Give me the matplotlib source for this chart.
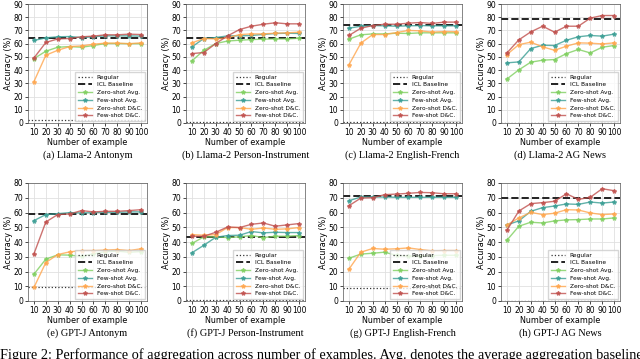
import numpy as np
from matplotlib import pyplot as plt

x = [10, 20, 30, 40, 50, 60, 70, 80, 90, 100]

titles = ["(a) Llama-2 Antonym", "(b) Llama-2 Person-Instrument",
          "(c) Llama-2 English-French", "(d) Llama-2 AG News",
          "(e) GPT-J Antonym", "(f) GPT-J Person-Instrument",
          "(g) GPT-J English-French", "(h) GPT-J AG News"]

regular = [2.5, 0.6, 0.6, 0.0, 9.2, 0.6, 8.6, 0.0]
icl_baseline = [64.1, 64.4, 73.8, 78.5, 58.8, 43.5, 70.9, 70.0]

zero_avg = [
    [48.7, 54.3, 57.3, 57.8, 57.3, 58.6, 60.1, 60.1, 60.0, 60.0],
    [47.0, 55.0, 60.1, 62.0, 62.6, 63.1, 63.4, 63.6, 63.6, 64.1],
    [63.4, 66.7, 67.4, 67.4, 67.9, 67.7, 68.2, 68.2, 68.2, 68.2],
    [33.3, 40.2, 46.0, 47.5, 48.0, 52.5, 55.6, 53.0, 57.3, 58.6],
    [18.2, 28.4, 31.3, 31.1, 30.2, 32.0, 33.5, 33.8, 33.0, 33.5],
    [39.0, 43.5, 43.5, 43.0, 43.5, 44.4, 43.0, 43.9, 43.9, 44.4],
    [29.0, 31.8, 32.4, 33.1, 30.9, 30.4, 30.5, 30.8, 31.0, 31.0],
    [41.2, 50.7, 53.4, 52.9, 54.3, 55.0, 55.2, 55.6, 55.6, 56.3],
]
few_avg = [
    [62.4, 64.4, 65.2, 65.4, 64.6, 65.2, 65.9, 65.9, 65.9, 65.7],
    [57.6, 63.9, 64.6, 65.9, 65.9, 66.2, 67.0, 67.7, 67.9, 67.7],
    [71.7, 73.2, 73.7, 73.5, 73.2, 73.5, 73.7, 73.5, 73.5, 73.5],
    [45.5, 46.2, 56.3, 58.8, 58.6, 62.6, 65.2, 66.2, 65.7, 67.2],
    [54.5, 58.6, 59.2, 59.9, 59.7, 59.9, 60.1, 60.1, 60.4, 60.4],
    [32.7, 37.8, 43.2, 44.4, 44.6, 47.1, 46.2, 46.6, 46.4, 46.4],
    [68.0, 70.5, 70.5, 70.5, 70.3, 70.3, 70.3, 70.3, 70.3, 70.3],
    [51.6, 54.3, 60.8, 63.3, 64.4, 65.8, 65.5, 67.1, 66.4, 67.1],
]
zero_dc = [
    [31.3, 51.3, 55.0, 57.8, 58.3, 59.6, 60.4, 60.4, 60.0, 60.6],
    [60.6, 63.9, 63.6, 64.4, 66.9, 67.4, 67.4, 67.9, 68.2, 68.7],
    [44.0, 60.4, 66.9, 66.9, 68.4, 70.0, 69.7, 68.7, 69.2, 69.0],
    [51.8, 59.3, 61.1, 57.6, 55.0, 58.1, 60.6, 60.4, 59.8, 60.6],
    [9.2, 26.1, 31.5, 33.3, 34.2, 34.2, 34.5, 34.9, 34.2, 35.4],
    [45.0, 44.6, 45.0, 49.8, 49.8, 48.6, 49.5, 48.6, 48.9, 49.8],
    [21.6, 33.1, 35.6, 35.1, 35.4, 36.0, 34.9, 34.0, 34.2, 34.2],
    [51.6, 56.3, 60.1, 58.6, 59.5, 61.9, 61.7, 59.7, 58.6, 59.0],
]
few_dc = [
    [49.2, 60.9, 63.6, 63.9, 65.2, 65.7, 66.7, 66.7, 67.2, 66.9],
    [52.5, 53.3, 60.1, 65.9, 70.7, 73.2, 74.7, 75.8, 75.0, 75.0],
    [66.2, 71.7, 73.7, 74.7, 74.7, 75.5, 76.0, 75.3, 76.3, 76.3],
    [53.0, 62.9, 68.9, 73.2, 68.7, 73.2, 73.2, 79.3, 81.3, 81.3],
    [32.0, 53.6, 58.6, 59.0, 61.3, 60.4, 60.8, 60.8, 61.3, 61.9],
    [43.9, 43.9, 46.6, 50.2, 49.8, 52.0, 52.9, 50.7, 51.6, 52.5],
    [64.6, 69.8, 70.0, 72.1, 72.5, 73.0, 73.6, 73.4, 72.7, 72.7],
    [48.0, 61.0, 66.0, 66.7, 67.6, 72.7, 68.9, 70.3, 76.1, 74.8],
]

series = [("Zero-shot Avg.", zero_avg, "#7fcf5f"),
          ("Few-shot Avg.", few_avg, "#3a9e94"),
          ("Zero-shot D&C.", zero_dc, "#ffa64d"),
          ("Few-shot D&C.", few_dc, "#c0504d")]


def main():
    fig = plt.figure(figsize=(6.4, 3.59), dpi=100)
    lefts = [28, 186, 343, 501]
    for i in range(8):
        row, col = divmod(i, 4)
        if row == 0:
            top_px, bot_px, ymax = 4, 123, 90
        else:
            top_px, bot_px, ymax = 183, 301, 80
        ax = fig.add_axes([lefts[col] / 640, 1 - bot_px / 359,
                           119 / 640, (bot_px - top_px) / 359])
        ax.grid(True, color="#e0e0e0", linewidth=0.6)
        ax.set_axisbelow(True)
        ax.axhline(regular[i], color="#333333", linestyle=":", linewidth=0.9,
                   label="Regular")
        ax.axhline(icl_baseline[i], color="#222222", linestyle="--",
                   linewidth=1.4, label="ICL Baseline")
        for name, data, c in series:
            ax.plot(x, data[i], color=c, marker="*", markersize=3,
                    linewidth=1.0, alpha=0.8, label=name)
        ax.set_xlim(5, 105)
        ax.set_ylim(0, ymax)
        ax.set_xticks(x)
        ax.set_yticks(np.arange(0, ymax + 1, 10))
        ax.tick_params(labelsize=5.5, length=2, width=0.5, pad=1.5)
        for s in ax.spines.values():
            s.set_linewidth(0.5)
            s.set_color("#555555")
        ax.set_xlabel("Number of example", fontsize=5.8, labelpad=0.5)
        ax.set_ylabel("Accuracy (%)", fontsize=5.8, labelpad=0.5)
        ax.legend(loc="lower right", fontsize=4.2, borderaxespad=0.3,
                  handlelength=2.4, labelspacing=0.45, borderpad=0.5,
                  fancybox=False, edgecolor="#cccccc")
        cap_y = 155 if row == 0 else 333
        cx = (lefts[col] + 119 / 2) / 640
        fig.text(cx, 1 - cap_y / 359, titles[i], ha="center", va="center",
                 fontsize=7.4, family="Liberation Serif")

    fig.text(0.0, 1 - 348 / 359,
             "Figure 2: Performance of aggregation across number of examples. "
             "Avg. denotes the average aggregation baseline",
             ha="left", va="top", fontsize=10.3, family="Liberation Serif")
    fig.savefig("out.png", dpi=100)


if __name__ == '__main__':
    main()
